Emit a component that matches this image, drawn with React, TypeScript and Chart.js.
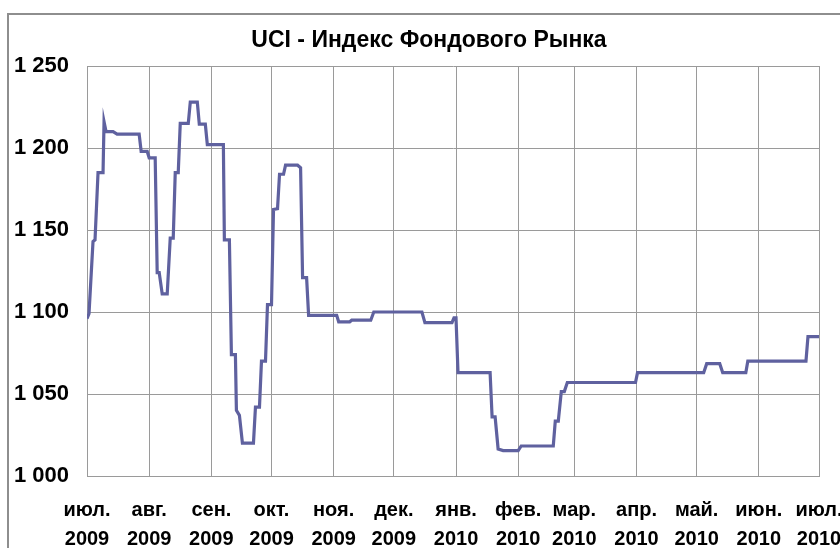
import React, { useEffect, useRef } from "react";
import { Chart, registerables } from "chart.js";

Chart.register(...registerables);

const TITLE = "UCI - Индекс Фондового Рынка";
const monthLabels = ["июл.", "авг.", "сен.", "окт.", "ноя.", "дек.", "янв.", "фев.", "мар.", "апр.", "май.", "июн.", "июл."];
const yearLabels = ["2009", "2009", "2009", "2009", "2009", "2009", "2010", "2010", "2010", "2010", "2010", "2010", "2010"];
// days from 1 Jul 2009 to the start of each month
const monthStartDays = [0, 31, 62, 92, 123, 153, 184, 215, 243, 274, 304, 335, 365];
const yMin = 1000;
const yMax = 1250;
const yStep = 50;

// corner points of the index line: day offset from 1 Jul 2009 and index value
const cornerDays = [
  0, 1, 3, 4, 5.5, 8, 8.5, 9.5, 13, 15, 26, 27, 30, 31, 34, 35, 36, 37.5, 40, 41.5,
  43, 44, 45.5, 46.5, 50.5, 51.5, 55, 56, 59, 60, 68, 68.5, 71, 72, 74, 74.5, 76, 77.5, 83, 84,
  86, 87, 89, 90, 92, 93, 95, 96, 98, 99, 105, 106.5, 107.5, 109.5, 110.5, 124.5, 125.5, 131, 132, 141.5,
  143, 167, 168.5, 182, 183, 184, 185, 201, 202, 203.5, 205, 207.5, 215, 216.5, 232.5, 233.5, 235, 236.5, 238, 239.5,
  273.5, 274.5, 307.5, 309, 315.5, 317, 328.5, 329.5, 358.5, 359.5, 365,
];
const indexValues = [
  1096, 1099, 1143, 1144, 1185, 1185, 1216, 1210, 1210, 1208.5, 1208.5, 1198, 1198, 1194, 1194, 1124, 1124, 1111, 1111, 1145,
  1145, 1185, 1185, 1215, 1215, 1228, 1228, 1214.5, 1214.5, 1202, 1202, 1144, 1144, 1074, 1074, 1040, 1037, 1020, 1020, 1042,
  1042, 1070, 1070, 1104.5, 1104.5, 1162.5, 1163, 1184, 1184, 1189.5, 1189.5, 1188, 1121, 1121, 1098, 1098, 1094, 1094, 1095, 1095,
  1100, 1100, 1093.5, 1093.5, 1096.5, 1096.5, 1063, 1063, 1036, 1036, 1016.5, 1015.5, 1015.5, 1018.3, 1018.3, 1033.5, 1033.5, 1051.5, 1051.5, 1057,
  1057, 1063, 1063, 1068.5, 1068.5, 1063, 1063, 1070, 1070, 1085, 1085,
];

const FONT = "'Liberation Sans', Arial, sans-serif";

const fmt = (v: number) => String(v).replace(/\B(?=(\d{3})+(?!\d))/g, " ");

const titlePlugin = {
  id: "fixedTitle",
  afterDraw(chart: any) {
    const ctx = chart.ctx;
    ctx.save();
    ctx.font = `bold 23px ${FONT}`;
    ctx.fillStyle = "#000000";
    ctx.textAlign = "center";
    ctx.textBaseline = "middle";
    ctx.fillText(TITLE, 429, 41);
    ctx.restore();
  },
};

export default function App() {
  const ref = useRef<HTMLCanvasElement | null>(null);

  useEffect(() => {
    if (!ref.current) return;
    const points = cornerDays.map((d, i) => ({ x: d, y: indexValues[i] }));
    const chart = new Chart(ref.current, {
      type: "line",
      data: {
        datasets: [
          {
            data: points,
            borderColor: "#5F619F",
            borderWidth: 3.2,
            pointRadius: 0,
            tension: 0,
            fill: false,
          },
        ],
      },
      plugins: [titlePlugin],
      options: {
        animation: false,
        responsive: false,
        maintainAspectRatio: false,
        layout: { padding: { top: 66, right: 21, left: 0, bottom: 0 } },
        plugins: {
          legend: { display: false },
          title: { display: false },
          tooltip: { enabled: false },
        },
        scales: {
          x: {
            type: "linear",
            min: monthStartDays[0],
            max: monthStartDays[monthStartDays.length - 1],
            afterBuildTicks: (s: any) => {
              s.ticks = monthStartDays.map((v) => ({ value: v }));
            },
            afterFit: (s: any) => {
              s.height = 72;
              s.paddingLeft = 0;
              s.paddingRight = 0;
            },
            ticks: {
              autoSkip: false,
              maxRotation: 0,
              minRotation: 0,
              padding: 20,
              color: "#000000",
              font: { family: FONT, size: 20, weight: "bold", lineHeight: 1.45 },
              callback: (_v: any, i: number) => [monthLabels[i], yearLabels[i]],
            },
            grid: { color: "#9a9a9a", lineWidth: 1, drawTicks: false },
            border: { color: "#9a9a9a", width: 1 },
          },
          y: {
            min: yMin,
            max: yMax,
            afterFit: (s: any) => {
              s.width = 87;
            },
            ticks: {
              stepSize: yStep,
              padding: 18,
              color: "#000000",
              font: { family: FONT, size: 22, weight: "bold" },
              callback: (v: any) => fmt(Number(v)),
            },
            grid: { color: "#9a9a9a", lineWidth: 1, drawTicks: false },
            border: { color: "#9a9a9a", width: 1 },
          },
        },
      },
    } as any);
    return () => chart.destroy();
  }, []);

  return (
    <div style={{ position: "absolute", left: 0, top: 0, width: 840, height: 548, overflow: "hidden", background: "#ffffff" }}>
      <div
        style={{
          position: "absolute",
          left: 7,
          top: 13,
          width: 900,
          height: 600,
          borderTop: "2px solid #8e8e8e",
          borderLeft: "2px solid #8e8e8e",
        }}
      />
      <canvas ref={ref} width={840} height={548} style={{ position: "absolute", left: 0, top: 0, width: 840, height: 548 }} />
    </div>
  );
}
